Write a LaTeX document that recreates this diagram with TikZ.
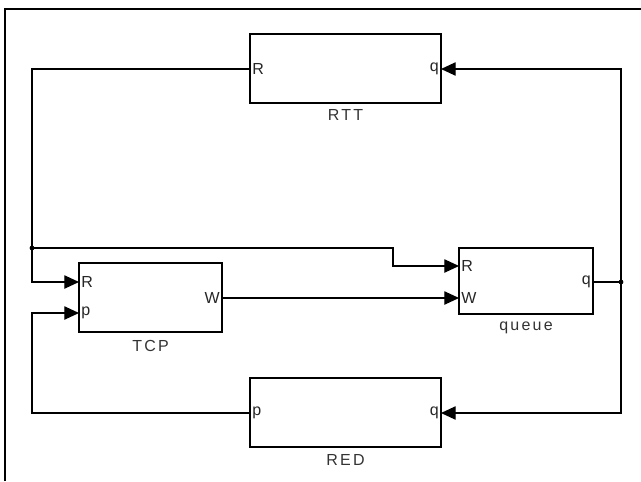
\documentclass[tikz,border=0pt]{standalone}
\usepackage{fontspec}
\setmainfont{Liberation Sans}
\usetikzlibrary{arrows.meta}

\begin{document}
\begin{tikzpicture}[x=0.75pt,y=0.75pt,yscale=-1,xscale=1,
    blk/.style={draw, line width=1.1pt, inner sep=0pt, outer sep=0pt},
    port/.style={inner sep=1.5pt, text=black!85, font=\fontsize{12}{13}\selectfont},
    blkname/.style={inner sep=0pt, text=black!80, font=\fontsize{12}{13}\selectfont\addfontfeature{LetterSpace=14}},
    sig/.style={line width=0.9pt},
    arr/.style={sig, -{Triangle[length=11pt,width=10pt]}}]
        \useasboundingbox (0,0) rectangle (641,481);

        % frame
        \draw [line width=1.1pt] (5,481) -- (5,9) -- (641,9) ;

        % blocks
        \node [blk, minimum width=143.25pt, minimum height=51.75pt] (rtt) at (345.5,68.5) {};
        \node [blk, minimum width=107.25pt, minimum height=51.75pt] (tcp) at (150.5,297.5) {};
        \node [blk, minimum width=100.5pt, minimum height=49.5pt] (que) at (526,281) {};
        \node [blk, minimum width=143.25pt, minimum height=51.75pt] (red) at (345.5,412.5) {};

        % block names
        \node [blkname, anchor=base] (rttname) at ([yshift=13.5pt]rtt.south) {RTT};
        \node [blkname, anchor=base] (tcpname) at ([yshift=14.5pt]tcp.south) {TCP};
        \node [blkname, anchor=base] (quename) at ([yshift=12pt]que.south) {queue};
        \node [blkname, anchor=base] (redname) at ([yshift=14pt]red.south) {RED};

        % ports
        \coordinate (rttR) at (250,69);
        \coordinate (rttQ) at (441,69);
        \coordinate (tcpR) at (79,282);
        \coordinate (tcpP) at (79,313);
        \coordinate (tcpW) at (222,298);
        \coordinate (queR) at (459,266);
        \coordinate (queW) at (459,298);
        \coordinate (queQ) at (593,282);
        \coordinate (redP) at (250,413);
        \coordinate (redQ) at (441,413);

        \node [port, anchor=west] (rttRl) at (rttR) {R};
        \node [port, anchor=east] (rttQl) at (rttQ) {q};
        \node [port, anchor=west] (tcpRl) at (tcpR) {R};
        \node [port, anchor=west] (tcpPl) at (tcpP) {p};
        \node [port, anchor=east] (tcpWl) at (tcpW) {W};
        \node [port, anchor=west] (queRl) at (queR) {R};
        \node [port, anchor=west] (queWl) at (queW) {W};
        \node [port, anchor=east] (queQl) at (queQ) {q};
        \node [port, anchor=west] (redPl) at (redP) {p};
        \node [port, anchor=east] (redQl) at (redQ) {q};

        % bends and branch points
        \coordinate (ltop) at (32,69);
        \coordinate (lbot) at (32,413);
        \coordinate (dotL) at (32,248);
        \coordinate (jog) at (393,266);
        \coordinate (dotR) at (621,282);

        % signals
        \draw [arr] (rttR) -- (ltop) |- (tcpR) ;
        \draw [arr] (dotL) -| (jog) -- (queR) ;
        \draw [arr] (tcpW) -- (queW) ;
        \draw [sig] (queQ) -- (dotR) ;
        \draw [arr] (dotR) |- (rttQ) ;
        \draw [arr] (dotR) |- (redQ) ;
        \draw [arr] (redP) -- (lbot) |- (tcpP) ;
        \fill (dotL) circle [radius=1.8pt] ;
        \fill (dotR) circle [radius=1.8pt] ;

\end{tikzpicture}
\end{document}
